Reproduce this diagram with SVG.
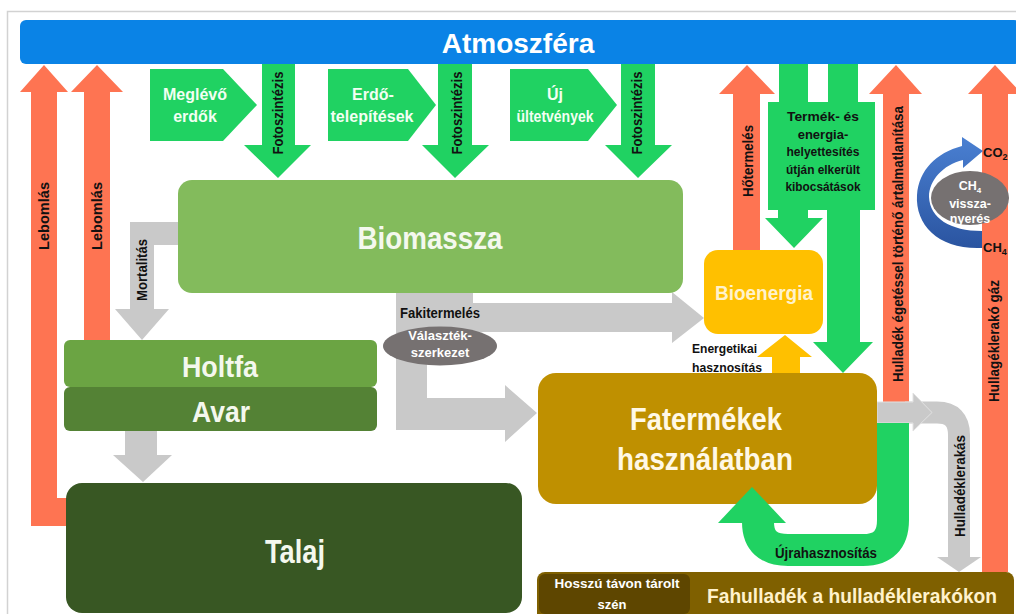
<svg xmlns="http://www.w3.org/2000/svg" width="1016" height="614" viewBox="0 0 1016 614">
<defs>
<style>
text{font-family:"Liberation Sans",Arial,sans-serif;font-weight:bold}
.lbl{font-size:14px;fill:#111;text-anchor:middle}
.big{fill:#f4f8ee;text-anchor:middle}
.pt{font-size:16px;fill:#f2fff2;text-anchor:middle}
.gr{fill:#20d262}
.or{fill:#fe7452}
.gy{fill:#c9c9c9}
.wt{fill:#fff;text-anchor:middle;font-size:13px}
.bx{font-size:13px;fill:#111;text-anchor:middle}
</style>
<linearGradient id="blueg" x1="0" y1="0" x2="0" y2="1">
<stop offset="0" stop-color="#4a80d2"/>
<stop offset="1" stop-color="#2a54a0"/>
</linearGradient>
</defs>
<rect x="0" y="0" width="1016" height="614" fill="#fff"/>
<rect x="7.5" y="11.5" width="1030" height="630" fill="none" stroke="#d2d2d2" stroke-width="1.5"/>

<g id="connectors">
<path class="or" d="M31 526 V92 H20 L44 65 L68 92 H57 V498 H68 V526 Z"/>
<text class="lbl" transform="translate(49,216) rotate(-90)" textLength="68" lengthAdjust="spacingAndGlyphs">Lebomlás</text>
<path class="or" d="M84 340 V92 H71 L97 65 L123 92 H110 V340 Z"/>
<text class="lbl" transform="translate(102,216) rotate(-90)" textLength="68" lengthAdjust="spacingAndGlyphs">Lebomlás</text>
<path class="gy" d="M178 222 H130 V309 H115 L142 340 L169 309 H154 V245 H178 Z"/>
<text class="lbl" transform="translate(147,270) rotate(-90)" textLength="62" lengthAdjust="spacingAndGlyphs">Mortalitás</text>
<path class="gy" d="M125 431 H157 V455 H172 L143 482 L113 455 H125 Z"/>
<path class="gr" d="M262 64 H295 V145 H311 L278 178 L244 145 H262 Z"/>
<text class="lbl" transform="translate(283,113) rotate(-90)" textLength="83" lengthAdjust="spacingAndGlyphs">Fotoszintézis</text>
<path class="gr" d="M438 64 H472 V145 H489 L455 178 L422 145 H438 Z"/>
<text class="lbl" transform="translate(462,113) rotate(-90)" textLength="83" lengthAdjust="spacingAndGlyphs">Fotoszintézis</text>
<path class="gr" d="M621 64 H655 V145 H672 L638 178 L605 145 H621 Z"/>
<text class="lbl" transform="translate(642,113) rotate(-90)" textLength="83" lengthAdjust="spacingAndGlyphs">Fotoszintézis</text>
<path class="gy" d="M396 293 H473 V303 H672 V292 L704 318 L672 343 V332 H427 V398 H505 V385 L537 413 L505 442 V430 H396 Z"/>
<text class="lbl" x="440" y="318" textLength="80" lengthAdjust="spacingAndGlyphs">Fakitermelés</text>
<ellipse cx="440" cy="346" rx="57" ry="19.5" fill="#767171"/>
<text class="wt" x="440" y="340" fill="#eee">Választék-</text>
<text class="wt" x="440" y="357" fill="#eee">szerkezet</text>
<path class="or" d="M733 250 V94 H719 L747 65 L775 94 H760 V250 Z"/>
<text class="lbl" transform="translate(753,161) rotate(-90)" textLength="72" lengthAdjust="spacingAndGlyphs">Hőtermelés</text>
<path fill="#ffc000" d="M772 373 V357 H757 L785 335 L812 357 H800 V373 Z"/>
<text x="692" y="353" style="font-size:13px;fill:#111" textLength="65" lengthAdjust="spacingAndGlyphs">Energetikai</text>
<text x="692" y="372" style="font-size:13px;fill:#111" textLength="70" lengthAdjust="spacingAndGlyphs">hasznosítás</text>
<rect class="gr" x="779" y="63" width="29" height="40"/>
<rect class="gr" x="828" y="63" width="30" height="40"/>
<path class="gr" d="M778 209 H808 V218 H823 L794 248 L765 218 H778 Z"/>
<path class="gr" d="M827 209 H860 V342 H873 L843 373 L813 342 H827 Z"/>
<path class="or" d="M883 402 V94 H869 L896 65 L922 94 H909 V402 Z"/>
<text class="lbl" transform="translate(903,244) rotate(-90)" textLength="276" lengthAdjust="spacingAndGlyphs">Hulladék égetéssel történő ártalmatlanítása</text>
<path class="or" d="M982 572 V94 H968 L995 65 L1022 94 H1008 V572 Z"/>
<text class="lbl" transform="translate(999,341) rotate(-90)" textLength="122" lengthAdjust="spacingAndGlyphs">Hullagéklerakó gáz</text>
<path d="M905 412.5 H937 Q959 412.5 959 435 V558" fill="none" stroke="#c9c9c9" stroke-width="22"/>
<path class="gy" d="M937 557 H981 L959 572 Z"/>
<path class="gy" d="M877 402 H913 V393 L932 412.5 L913 431 V423 H877 Z" stroke="#e2e2e2" stroke-width="1"/>
<text class="lbl" transform="translate(965,486) rotate(-90)" textLength="102" lengthAdjust="spacingAndGlyphs">Hulladéklerakás</text>
<path d="M893 423 V520 Q893 550 863 550 H788 Q758 550 758 522" fill="none" stroke="#20d262" stroke-width="32"/>
<text class="lbl" x="826" y="558" textLength="102" lengthAdjust="spacingAndGlyphs">Újrahasznosítás</text>
<path fill="url(#blueg)" d="M982 248 C940 250 915 226 917 195 C919 170 936 153 962 146 L962 137 L983 151 L963 168 L963 160 C943 165 929 180 929 197 C930 218 950 231 982 231 Z"/>
<text x="983" y="157" style="font-size:13px;fill:#111">CO<tspan font-size="9" dy="3">2</tspan></text>
<text x="983" y="252" style="font-size:13px;fill:#111">CH<tspan font-size="9" dy="3">4</tspan></text>
</g>

<g id="atmoszfera">
<rect x="20" y="20" width="1000" height="44" rx="6" fill="#0a83e6"/>
<text x="518" y="53" style="font-size:28px;fill:#fff;text-anchor:middle">Atmoszféra</text>
</g>

<g id="meglevo-erdok">
<path class="gr" d="M150 69 H223 L257 105 L223 141 H150 Z"/>
<text class="pt" x="195" y="100" textLength="64" lengthAdjust="spacingAndGlyphs">Meglévő</text>
<text class="pt" x="195" y="122">erdők</text>
</g>
<g id="erdotelepitesek">
<path class="gr" d="M328 69 H408 L436 105 L408 141 H328 Z"/>
<text class="pt" x="373" y="100">Erdő-</text>
<text class="pt" x="372" y="122" textLength="83" lengthAdjust="spacingAndGlyphs">telepítések</text>
</g>
<g id="uj-ultetvenyek">
<path class="gr" d="M510 69 H588 L617 105 L588 141 H510 Z"/>
<text class="pt" x="555" y="100">Új</text>
<text class="pt" x="555" y="122" textLength="77" lengthAdjust="spacingAndGlyphs">ültetvények</text>
</g>

<g id="biomassza">
<rect x="178" y="180" width="505" height="113" rx="14" fill="#83bb5c"/>
<text class="big" x="430" y="249" style="font-size:32px" textLength="145" lengthAdjust="spacingAndGlyphs">Biomassza</text>
</g>

<g id="holtfa">
<rect x="64" y="340" width="313" height="47" rx="6" fill="#6ba443"/>
<text class="big" x="220" y="377" style="font-size:30px" textLength="76" lengthAdjust="spacingAndGlyphs">Holtfa</text>
</g>
<g id="avar">
<rect x="64" y="387" width="313" height="44" rx="6" fill="#548235"/>
<text class="big" x="221" y="422" style="font-size:29px" textLength="58" lengthAdjust="spacingAndGlyphs">Avar</text>
</g>

<g id="talaj">
<rect x="66" y="483" width="456" height="130" rx="16" fill="#385723"/>
<text class="big" x="295" y="563" style="font-size:34px" textLength="60" lengthAdjust="spacingAndGlyphs">Talaj</text>
</g>

<g id="termek-helyettesites">
<rect class="gr" x="768" y="102" width="107" height="108"/>
<text class="bx" x="823" y="121" textLength="72" lengthAdjust="spacingAndGlyphs">Termék- és</text>
<text class="bx" x="823" y="138.5">energia-</text>
<text class="bx" x="823" y="156" textLength="73" lengthAdjust="spacingAndGlyphs">helyettesítés</text>
<text class="bx" x="823" y="173.5" textLength="74" lengthAdjust="spacingAndGlyphs">útján elkerült</text>
<text class="bx" x="823" y="191" textLength="75" lengthAdjust="spacingAndGlyphs">kibocsátások</text>
</g>

<g id="bioenergia">
<rect x="704" y="250" width="119" height="84" rx="14" fill="#ffc000"/>
<text x="764" y="300" style="font-size:21px;fill:#fff2cc;text-anchor:middle" textLength="98" lengthAdjust="spacingAndGlyphs">Bioenergia</text>
</g>

<g id="fatermekek">
<rect x="538" y="373" width="339" height="131" rx="18" fill="#bf9000"/>
<text class="big" x="706" y="430" style="font-size:32px;fill:#fff8e6" textLength="152" lengthAdjust="spacingAndGlyphs">Fatermékek</text>
<text class="big" x="705" y="470" style="font-size:32px;fill:#fff8e6" textLength="176" lengthAdjust="spacingAndGlyphs">használatban</text>
</g>
<path class="gr" d="M718 523 H786 L752 487 Z"/>

<g id="ch4-visszanyeres">
<ellipse cx="970" cy="198" rx="39" ry="27" fill="#767171"/>
<text x="970" y="190" style="font-size:12.5px;fill:#fff;text-anchor:middle">CH<tspan font-size="8" dy="3">4</tspan></text>
<text x="970" y="208" style="font-size:12.5px;fill:#fff;text-anchor:middle">vissza-</text>
<text x="970" y="223" style="font-size:12.5px;fill:#fff;text-anchor:middle">nyerés</text>
</g>

<g id="fahulladek">
<rect x="537" y="572" width="477" height="60" rx="8" fill="#7f6000"/>
<text x="707" y="603" style="font-size:20px;fill:#fff2cc" textLength="290" lengthAdjust="spacingAndGlyphs">Fahulladék a hulladéklerakókon</text>
</g>
<g id="hosszu-tavon">
<rect x="539" y="574" width="151" height="40" rx="6" fill="#5e4600"/>
<text class="wt" x="617" y="588" textLength="125" lengthAdjust="spacingAndGlyphs">Hosszú távon tárolt</text>
<text class="wt" x="612" y="609">szén</text>
</g>
</svg>
